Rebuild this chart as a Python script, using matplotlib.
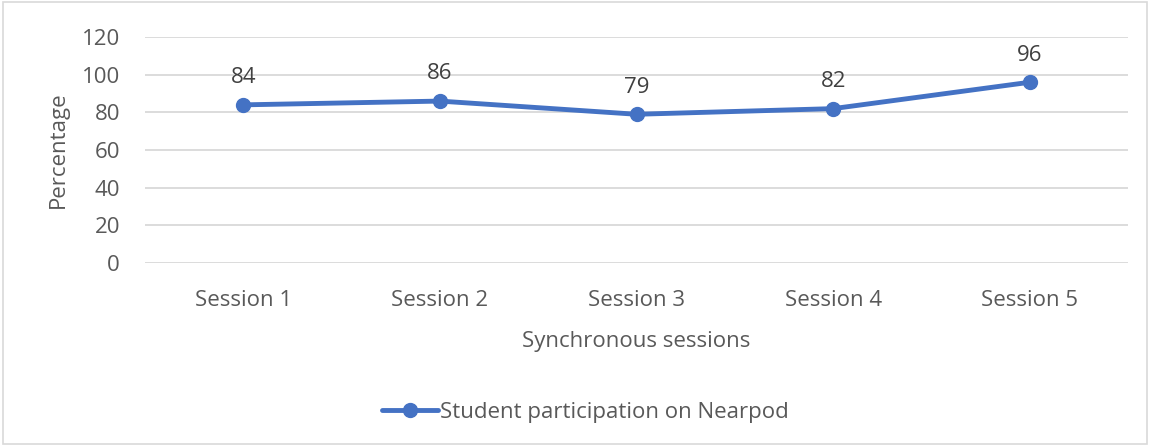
import matplotlib.pyplot as plt
from matplotlib.patches import Rectangle

sessions = ['Session 1', 'Session 2', 'Session 3', 'Session 4', 'Session 5']
participation = [84, 86, 79, 82, 96]

blue = '#4472C4'
grey = '#595959'

plt.rcParams['font.family'] = ['Open Sans', 'DejaVu Sans']

fig = plt.figure(figsize=(11.5, 4.46), dpi=100)
ax = fig.add_axes([0.126, 0.41, 0.855, 0.507])

x = range(len(sessions))
ax.plot(x, participation, color=blue, lw=3.5, marker='o', ms=10,
        label='Student participation on Nearpod', solid_capstyle='round')
for xi, v in zip(x, participation):
    ax.annotate(str(v), (xi, v), xytext=(0, 12), textcoords='offset points',
                ha='center', va='bottom', fontsize=16, color='#404040')

ax.set_xlim(-0.5, 4.5)
ax.set_ylim(0, 120)
ax.set_yticks(range(0, 121, 20))
ax.set_xticks(list(x))
ax.set_xticklabels(sessions)
ax.grid(axis='y', color='#d9d9d9', lw=1.3)
ax.set_axisbelow(True)
for s in ax.spines.values():
    s.set_visible(False)
ax.tick_params(length=0, labelsize=16, colors=grey, pad=18)
ax.tick_params(axis='x', pad=19)
ax.set_xlabel('Synchronous sessions', fontsize=16, color=grey, labelpad=15)
ax.set_ylabel('Percentage', fontsize=16, color=grey, labelpad=9)

fig.legend(loc='center', bbox_to_anchor=(0.509, 0.076), frameon=False,
           fontsize=16, labelcolor=grey, handlelength=2.5, handletextpad=0.1)

fig.patches.append(Rectangle((0.003, 0.005), 0.994, 0.99, transform=fig.transFigure,
                             fill=False, ec='#d9d9d9', lw=1.2))

fig.savefig('out.png', dpi=100)
